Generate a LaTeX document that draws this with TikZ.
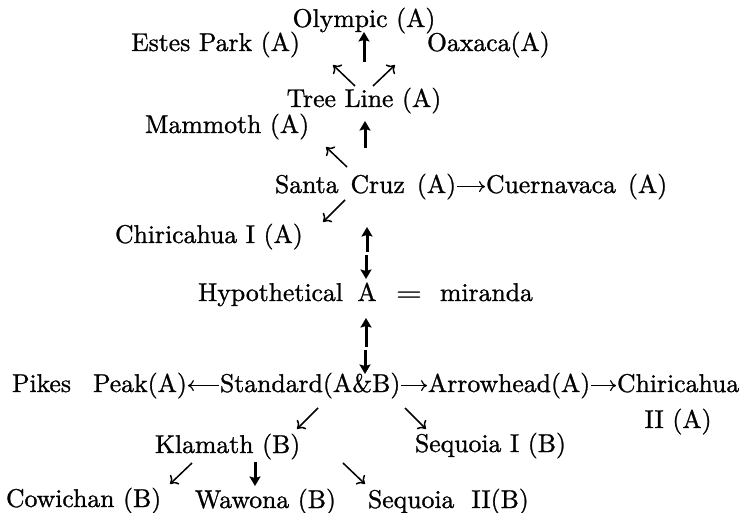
\documentclass[tikz,border=0pt]{standalone}
\usepackage{fontspec}
\setmainfont{lmroman10-regular.otf}[BoldFont=lmroman10-regular.otf, BoldFeatures={FakeBold=1.0}]
\usetikzlibrary{arrows.meta,calc}
\tikzset{
  t/.style={inner sep=0pt, outer sep=0pt, font=\fontsize{25.7}{31}\selectfont\bfseries},
  barrow/.style={line width=3pt, -{Stealth[length=9.5pt,width=11pt,inset=1.5pt]}},
  darrow/.style={line width=1.5pt, -{Computer Modern Rightarrow[length=7pt,width=13pt]}},
  harrow/.style={line width=1.2pt, -{Computer Modern Rightarrow[length=6pt,width=11pt]}}
}
\begin{document}
\begin{tikzpicture}[x=1pt,y=-1pt]
\fill[white] (0,0) rectangle (747,513);
\useasboundingbox (0,0) rectangle (747,513);
% nodes
\node[t, anchor=base] (olym) at (364,27) {Olympic (A)};
\node[t, anchor=base east] (estes) at (300,51) {Estes Park (A)};
\node[t, anchor=base west] (oax) at (427,51) {Oaxaca(A)};
\node[t, anchor=base] (tree) at (364,107) {Tree Line (A)};
\node[t, anchor=base west] (mam) at (145,133) {Mammoth (A)};
\node[t, anchor=base west] (santa) at (275,193) {Santa\hspace{12pt}Cruz\hspace{12pt}(A)};
\node[t, anchor=base west] (cuer) at (486,193) {Cuernavaca\hspace{12pt}(A)};
\node[t, anchor=base west] (chi1) at (115,243) {Chiricahua I (A)};
\node[t, anchor=base] (hA) at (367,301) {A};
\node[t, anchor=base east] (hypo) at (343,301) {Hypothetical};
\node[t, anchor=base west] (mir) at (396,301) {\scalebox{1.3}[1]{=}\hspace{18pt}miranda};
\node[t, anchor=base west] (pikes) at (12,392) {Pikes\hspace{22pt}Peak(A)};
\node[t, anchor=base west] (std) at (220,392) {Standard(A\&B)};
\node[t, anchor=base west] (arrh) at (428,392) {Arrowhead(A)};
\node[t, anchor=base west] (chi2) at (617,392) {\begin{tabular}[t]{@{}c@{}}Chiricahua\\[5pt]II (A)\end{tabular}};
\node[t, anchor=base west] (klam) at (155,453) {Klamath (B)};
\node[t, anchor=base west] (seq1) at (415,452) {Sequoia I (B)};
\node[t, anchor=base west] (cow) at (6,507) {Cowichan (B)};
\node[t, anchor=base west] (waw) at (195,508) {Wawona (B)};
\node[t, anchor=base west] (seq2) at (368,508) {Sequoia\hspace{17pt}II(B)};
% vertical thick arrows
\draw[barrow] ($(olym.base)+(0,35)$) -- ($(olym.base)+(0,5)$);
\draw[barrow] ($(tree.base)+(1,41)$) -- ($(tree.base)+(1,14)$);
\draw[barrow] ($(hA.base)+(0,-49)$) -- ($(hA.base)+(0,-74)$);
\draw[barrow] ($(hA.base)+(-1,-46)$) -- ($(hA.base)+(-1,-22)$);
\draw[barrow] ($(hA.base)+(-1,46)$) -- ($(hA.base)+(-1,17)$);
\draw[barrow] ($(hA.base)+(-2,49)$) -- ($(hA.base)+(-2,73)$);
\draw[barrow] ($(klam.base west)+(100,9)$) -- ($(klam.base west)+(100,33)$);
% diagonal arrows
\draw[darrow] ($(tree.base)+(-9,-21)$) -- ($(tree.base)+(-31,-42)$);
\draw[darrow] ($(tree.base)+(9,-21)$) -- ($(tree.base)+(31,-42)$);
\draw[darrow] ($(santa.base west)+(72,-26)$) -- ($(santa.base west)+(51,-46)$);
\draw[darrow] ($(santa.base west)+(70,7)$) -- ($(santa.base west)+(48,29)$);
\draw[darrow] ($(std.base west)+(98,16)$) -- ($(std.base west)+(77,37)$);
\draw[darrow] ($(std.base west)+(185,16)$) -- ($(std.base west)+(206,37)$);
\draw[darrow] ($(klam.base west)+(37,10)$) -- ($(klam.base west)+(15,31)$);
\draw[darrow] ($(klam.base west)+(188,10)$) -- ($(klam.base west)+(210,31)$);
% horizontal arrows
\draw[harrow] ([yshift=6.4pt,xshift=1pt]santa.base east) -- ([yshift=6.4pt,xshift=-1pt]cuer.base west);
\draw[harrow] ([yshift=6.4pt,xshift=-1pt]std.base west) -- ([yshift=6.4pt,xshift=1pt]pikes.base east);
\draw[harrow] ([yshift=6.4pt,xshift=1pt]std.base east) -- ([yshift=6.4pt,xshift=-1pt]arrh.base west);
\draw[harrow] ([yshift=6.4pt,xshift=1pt]arrh.base east) -- ([yshift=6.4pt,xshift=-1pt]chi2.base west);
\end{tikzpicture}
\end{document}
